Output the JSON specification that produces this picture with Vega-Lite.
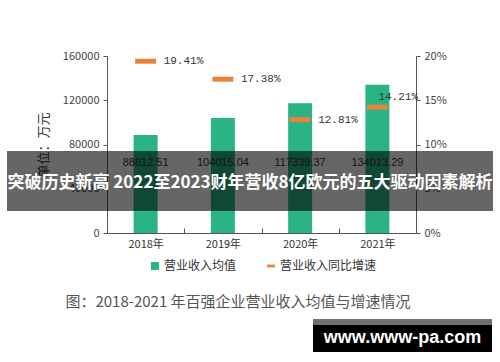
{
  "$schema": "https://vega.github.io/schema/vega-lite/v6.json",
  "width": 309,
  "height": 177,
  "autosize": {"type": "none"},
  "padding": {"left": 107, "top": 56, "right": 84, "bottom": 129},
  "background": "white",
  "config": {
    "view": {"stroke": null},
    "font": "Noto Sans CJK SC",
    "axis": {"domainColor": "#555", "tickColor": "#555", "labelColor": "#444", "labelFont": "Noto Sans CJK SC", "grid": false}
  },
  "data": {
    "values": [
      {"year": "2018年", "revenue": 88612.51, "growth": 0.1941},
      {"year": "2019年", "revenue": 104015.04, "growth": 0.1738},
      {"year": "2020年", "revenue": 117339.37, "growth": 0.1281},
      {"year": "2021年", "revenue": 134013.29, "growth": 0.1421}
    ]
  },
  "layer": [
    {
      "layer": [
        {
          "mark": {"type": "bar", "size": 24},
          "encoding": {
            "x": {"field": "year", "type": "nominal", "scale": {"paddingInner": 0, "paddingOuter": 0},
              "axis": {"title": null, "labelAngle": 0, "tickBand": "extent", "tickSize": -5, "labelPadding": 10, "labelFontSize": 11, "labelColor": "#333"}},
            "y": {"field": "revenue", "type": "quantitative", "scale": {"domain": [0, 160000], "nice": false},
              "axis": {"values": [0, 40000, 80000, 120000, 160000], "format": "d", "title": "单位：万元", "titleFontSize": 13, "titleFontWeight": "normal", "titleColor": "#333", "titlePadding": 12, "labelFontSize": 11, "tickSize": 4, "labelPadding": 4}},
            "color": {"datum": "营业收入均值", "type": "nominal",
              "scale": {"domain": ["营业收入均值", "营业收入同比增速"], "range": ["#2ab387", "#e8843a"]},
              "legend": {
                "title": null, "orient": "none", "legendX": 42, "legendY": 204, "direction": "horizontal",
                "labelFontSize": 12, "labelColor": "#333", "labelFont": "Noto Sans CJK SC",
                "symbolSize": 64, "columnPadding": 28, "labelOffset": 3,
                "encode": {"symbols": {"update": {"shape": {"signal": "datum.value === '营业收入均值' ? 'square' : 'M-1,-0.35H1V0.35H-1Z'"}, "strokeWidth": {"value": 0}}}}
              }}
          }
        },
        {
          "mark": {"type": "text", "fontSize": 11, "color": "#333", "baseline": "middle", "font": "Liberation Sans"},
          "encoding": {
            "x": {"field": "year", "type": "nominal"},
            "y": {"datum": 63300},
            "text": {"field": "revenue", "type": "quantitative", "format": ".2f"}
          }
        }
      ]
    },
    {
      "layer": [
        {
          "mark": {"type": "tick", "size": 21, "thickness": 5, "opacity": 1},
          "encoding": {
            "x": {"field": "year", "type": "nominal"},
            "y": {"field": "growth", "type": "quantitative", "scale": {"domain": [0, 0.2], "nice": false},
              "axis": {"orient": "right", "values": [0, 0.05, 0.1, 0.15, 0.2], "format": ".0%", "title": null, "labelFontSize": 11, "tickSize": 4, "labelPadding": 4}},
            "color": {"datum": "营业收入同比增速", "type": "nominal"}
          }
        },
        {
          "transform": [{"filter": "datum.year !== '2021年'"}],
          "mark": {"type": "text", "align": "left", "baseline": "middle", "dx": 18, "font": "Liberation Mono", "fontSize": 11, "color": "#333"},
          "encoding": {
            "x": {"field": "year", "type": "nominal"},
            "y": {"field": "growth", "type": "quantitative"},
            "text": {"field": "growth", "type": "quantitative", "format": ".2%"}
          }
        },
        {
          "transform": [{"filter": "datum.year === '2021年'"}],
          "mark": {"type": "text", "align": "left", "baseline": "middle", "dx": 1, "dy": -10, "font": "Liberation Mono", "fontSize": 11, "color": "#333"},
          "encoding": {
            "x": {"field": "year", "type": "nominal"},
            "y": {"field": "growth", "type": "quantitative"},
            "text": {"field": "growth", "type": "quantitative", "format": ".2%"}
          }
        }
      ]
    },
    {
      "data": {"values": [{"banner": "突破历史新高 2022至2023财年营收8亿欧元的五大驱动因素解析", "caption": "图：2018-2021 年百强企业营业收入均值与增速情况", "site": "www.www-pa.com"}]},
      "layer": [
        {
          "mark": {"type": "rect", "color": "black", "opacity": 0.6},
          "encoding": {"x": {"value": -100}, "x2": {"value": 386}, "y": {"value": 95}, "y2": {"value": 155}}
        },
        {
          "mark": {"type": "text", "color": "white", "fontSize": 17, "fontWeight": "bold", "font": "Noto Sans CJK SC", "align": "center", "baseline": "middle"},
          "encoding": {"x": {"value": 143}, "y": {"value": 127}, "text": {"field": "banner"}}
        },
        {
          "mark": {"type": "text", "color": "#555", "fontSize": 15, "font": "Noto Sans CJK SC", "align": "center", "baseline": "middle"},
          "encoding": {"x": {"value": 131}, "y": {"value": 246}, "text": {"field": "caption"}}
        },
        {
          "mark": {"type": "rect", "color": "black"},
          "encoding": {"x": {"value": 206}, "x2": {"value": 385}, "y": {"value": 263}, "y2": {"value": 296}}
        },
        {
          "mark": {"type": "rect", "color": "#707070"},
          "encoding": {"x": {"value": 206}, "x2": {"value": 385}, "y": {"value": 263}, "y2": {"value": 269}}
        },
        {
          "mark": {"type": "text", "color": "white", "fontSize": 18, "fontWeight": "bold", "font": "Liberation Sans", "align": "center", "baseline": "middle"},
          "encoding": {"x": {"value": 295.5}, "y": {"value": 282}, "text": {"field": "site"}}
        }
      ]
    }
  ],
  "resolve": {"scale": {"y": "independent"}}
}
